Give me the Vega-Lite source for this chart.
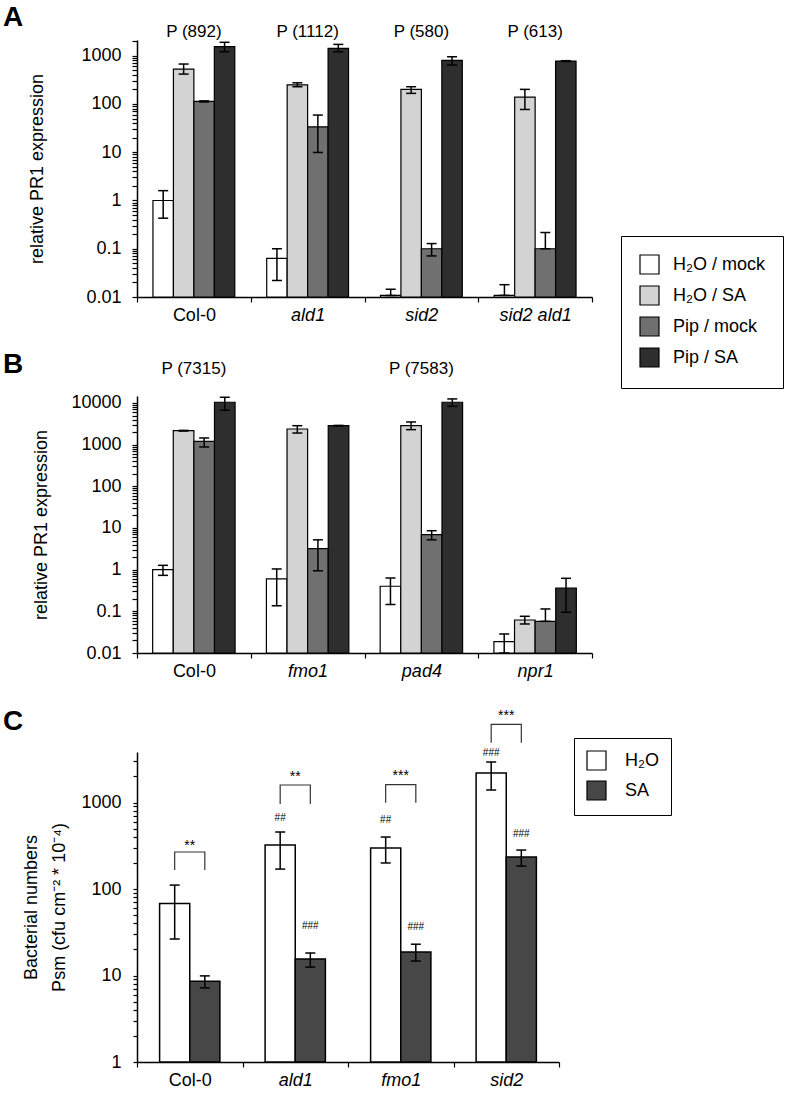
{
  "$schema": "https://vega.github.io/schema/vega-lite/v6.json",
  "padding": {"left": 3, "top": 3, "right": 0, "bottom": 0},
  "config": {
    "font": "Liberation Sans",
    "view": {"stroke": null},
    "axis": {"labelColor": "black", "titleColor": "black", "domainColor": "black", "tickColor": "black", "grid": false, "labelFontSize": 18, "titleFontSize": 18, "titleFontWeight": "normal", "domainWidth": 1.5, "tickWidth": 1.2},
    "legend": {"labelColor": "black", "labelFontSize": 18},
    "title": {"color": "black"}
  },
  "datasets": {
    "exprA": [
      {"genotype": "Col-0", "treatment": "H₂O / mock", "mean": 1.0, "lo": 0.43, "hi": 1.6},
      {"genotype": "Col-0", "treatment": "H₂O / SA", "mean": 530, "lo": 417, "hi": 673},
      {"genotype": "Col-0", "treatment": "Pip / mock", "mean": 113, "lo": 110, "hi": 116},
      {"genotype": "Col-0", "treatment": "Pip / SA", "mean": 1540, "lo": 1210, "hi": 1900},
      {"genotype": "ald1", "treatment": "H₂O / mock", "mean": 0.063, "lo": 0.022, "hi": 0.10},
      {"genotype": "ald1", "treatment": "H₂O / SA", "mean": 250, "lo": 228, "hi": 275},
      {"genotype": "ald1", "treatment": "Pip / mock", "mean": 33.6, "lo": 9.9, "hi": 59},
      {"genotype": "ald1", "treatment": "Pip / SA", "mean": 1420, "lo": 1210, "hi": 1720},
      {"genotype": "sid2", "treatment": "H₂O / mock", "mean": 0.0108, "lo": 0.0108, "hi": 0.0145},
      {"genotype": "sid2", "treatment": "H₂O / SA", "mean": 201, "lo": 166, "hi": 228},
      {"genotype": "sid2", "treatment": "Pip / mock", "mean": 0.10, "lo": 0.071, "hi": 0.128},
      {"genotype": "sid2", "treatment": "Pip / SA", "mean": 800, "lo": 641, "hi": 953},
      {"genotype": "sid2 ald1", "treatment": "H₂O / mock", "mean": 0.0108, "lo": 0.0108, "hi": 0.018},
      {"genotype": "sid2 ald1", "treatment": "H₂O / SA", "mean": 139, "lo": 77, "hi": 201},
      {"genotype": "sid2 ald1", "treatment": "Pip / mock", "mean": 0.10, "lo": 0.10, "hi": 0.217},
      {"genotype": "sid2 ald1", "treatment": "Pip / SA", "mean": 776, "lo": 760, "hi": 790}
    ],
    "pA": [
      {"genotype": "Col-0", "label": "P (892)", "y": 2490},
      {"genotype": "ald1", "label": "P (1112)", "y": 2490},
      {"genotype": "sid2", "label": "P (580)", "y": 2490},
      {"genotype": "sid2 ald1", "label": "P (613)", "y": 2490}
    ],
    "exprB": [
      {"genotype": "Col-0", "treatment": "H₂O / mock", "mean": 1.0, "lo": 0.73, "hi": 1.27},
      {"genotype": "Col-0", "treatment": "H₂O / SA", "mean": 2160, "lo": 2120, "hi": 2200},
      {"genotype": "Col-0", "treatment": "Pip / mock", "mean": 1200, "lo": 880, "hi": 1445},
      {"genotype": "Col-0", "treatment": "Pip / SA", "mean": 10400, "lo": 6680, "hi": 13700},
      {"genotype": "fmo1", "treatment": "H₂O / mock", "mean": 0.60, "lo": 0.136, "hi": 1.04},
      {"genotype": "fmo1", "treatment": "H₂O / SA", "mean": 2375, "lo": 1900, "hi": 2850},
      {"genotype": "fmo1", "treatment": "Pip / mock", "mean": 3.18, "lo": 0.94, "hi": 5.2},
      {"genotype": "fmo1", "treatment": "Pip / SA", "mean": 2850, "lo": 2800, "hi": 2900},
      {"genotype": "pad4", "treatment": "H₂O / mock", "mean": 0.40, "lo": 0.145, "hi": 0.63},
      {"genotype": "pad4", "treatment": "H₂O / SA", "mean": 2850, "lo": 2290, "hi": 3500},
      {"genotype": "pad4", "treatment": "Pip / mock", "mean": 6.9, "lo": 5.2, "hi": 8.6},
      {"genotype": "pad4", "treatment": "Pip / SA", "mean": 10400, "lo": 8300, "hi": 12500},
      {"genotype": "npr1", "treatment": "H₂O / mock", "mean": 0.0187, "lo": 0.01, "hi": 0.0286},
      {"genotype": "npr1", "treatment": "H₂O / SA", "mean": 0.062, "lo": 0.0497, "hi": 0.076},
      {"genotype": "npr1", "treatment": "Pip / mock", "mean": 0.0575, "lo": 0.0575, "hi": 0.114},
      {"genotype": "npr1", "treatment": "Pip / SA", "mean": 0.363, "lo": 0.095, "hi": 0.62}
    ],
    "pB": [
      {"genotype": "Col-0", "label": "P (7315)", "y": 49600},
      {"genotype": "pad4", "label": "P (7583)", "y": 49600}
    ],
    "bact": [
      {"genotype": "Col-0", "treatment": "H₂O", "mean": 68, "lo": 26.4, "hi": 111},
      {"genotype": "Col-0", "treatment": "SA", "mean": 8.6, "lo": 7.2, "hi": 9.9},
      {"genotype": "ald1", "treatment": "H₂O", "mean": 323, "lo": 170, "hi": 456},
      {"genotype": "ald1", "treatment": "SA", "mean": 15.5, "lo": 12.5, "hi": 18.2},
      {"genotype": "fmo1", "treatment": "H₂O", "mean": 298, "lo": 200, "hi": 399},
      {"genotype": "fmo1", "treatment": "SA", "mean": 18.7, "lo": 14.7, "hi": 23},
      {"genotype": "sid2", "treatment": "H₂O", "mean": 2190, "lo": 1395, "hi": 2940},
      {"genotype": "sid2", "treatment": "SA", "mean": 234, "lo": 184, "hi": 282}
    ],
    "starsC": [
      {"genotype": "Col-0", "label": "**", "y": 286},
      {"genotype": "ald1", "label": "**", "y": 1786},
      {"genotype": "fmo1", "label": "***", "y": 1835},
      {"genotype": "sid2", "label": "***", "y": 8990}
    ],
    "hashC": [
      {"genotype": "ald1", "treatment": "H₂O", "label": "##", "y": 619},
      {"genotype": "fmo1", "treatment": "H₂O", "label": "##", "y": 587},
      {"genotype": "sid2", "treatment": "H₂O", "label": "###", "y": 3494},
      {"genotype": "ald1", "treatment": "SA", "label": "###", "y": 34.9},
      {"genotype": "fmo1", "treatment": "SA", "label": "###", "y": 34.0},
      {"genotype": "sid2", "treatment": "SA", "label": "###", "y": 404}
    ],
    "bracketsC": [
      {"genotype": "Col-0", "treatment": "H₂O", "y": 166, "ord": 1},
      {"genotype": "Col-0", "treatment": "H₂O", "y": 268, "ord": 2},
      {"genotype": "Col-0", "treatment": "SA", "y": 268, "ord": 3},
      {"genotype": "Col-0", "treatment": "SA", "y": 166, "ord": 4},
      {"genotype": "ald1", "treatment": "H₂O", "y": 961, "ord": 1},
      {"genotype": "ald1", "treatment": "H₂O", "y": 1594, "ord": 2},
      {"genotype": "ald1", "treatment": "SA", "y": 1594, "ord": 3},
      {"genotype": "ald1", "treatment": "SA", "y": 961, "ord": 4},
      {"genotype": "fmo1", "treatment": "H₂O", "y": 995, "ord": 1},
      {"genotype": "fmo1", "treatment": "H₂O", "y": 1607, "ord": 2},
      {"genotype": "fmo1", "treatment": "SA", "y": 1607, "ord": 3},
      {"genotype": "fmo1", "treatment": "SA", "y": 995, "ord": 4},
      {"genotype": "sid2", "treatment": "H₂O", "y": 4910, "ord": 1},
      {"genotype": "sid2", "treatment": "H₂O", "y": 8015, "ord": 2},
      {"genotype": "sid2", "treatment": "SA", "y": 8015, "ord": 3},
      {"genotype": "sid2", "treatment": "SA", "y": 4910, "ord": 4}
    ]
  },
  "resolve": {"scale": {"x": "independent", "y": "independent", "xOffset": "independent", "fill": "independent"}, "legend": {"fill": "independent"}},
  "bounds": "flush",
  "spacing": 99,
  "vconcat": [
    {
      "width": 455,
      "height": 257,
      "title": {"text": "A", "anchor": "start", "frame": "group", "fontSize": 28, "fontWeight": "bold", "dx": -134, "dy": 9, "offset": 0},
      "layer": [
        {
          "data": {"name": "exprA"},
          "mark": {"type": "bar", "stroke": "black", "strokeWidth": 1.2, "opacity": 1},
          "encoding": {
            "x": {"field": "genotype", "type": "nominal", "scale": {"domain": ["Col-0", "ald1", "sid2", "sid2 ald1"], "paddingInner": 0, "paddingOuter": 0},
              "axis": {"title": null, "tickBand": "extent", "labelAngle": 0, "labelPadding": 4, "tickSize": 5,
                "labelFontStyle": {"condition": {"test": "datum.value === 'Col-0'", "value": "normal"}, "value": "italic"}}},
            "xOffset": {"field": "treatment", "type": "nominal", "scale": {"domain": ["H₂O / mock", "H₂O / SA", "Pip / mock", "Pip / SA"], "paddingInner": 0, "paddingOuter": 0.78}},
            "y": {"field": "mean", "type": "quantitative", "scale": {"type": "log", "domain": [0.01, 2120], "nice": false},
              "axis": {"title": "relative PR1 expression", "titlePadding": 34, "labelPadding": 11, "tickSize": 5, "labelOverlap": false, "labelFlush": false,
                "values": [0.01,0.02,0.03,0.04,0.05,0.06,0.07,0.08,0.09,0.1,0.2,0.3,0.4,0.5,0.6,0.7,0.8,0.9,1,2,3,4,5,6,7,8,9,10,20,30,40,50,60,70,80,90,100,200,300,400,500,600,700,800,900,1000,2000],
                "labelExpr": "abs(log(datum.value)/LN10 - round(log(datum.value)/LN10)) < 0.001 ? format(datum.value, '~g') : ''"}},
            "y2": {"datum": 0.01},
            "fill": {"field": "treatment", "type": "nominal",
              "scale": {"domain": ["H₂O / mock", "H₂O / SA", "Pip / mock", "Pip / SA"], "range": ["#ffffff", "#d3d3d3", "#707070", "#2e2e2e"]},
              "legend": {"title": null, "orient": "none", "legendX": 484, "legendY": 196, "direction": "vertical", "symbolType": "square", "symbolSize": 361,
                "symbolStrokeColor": "black", "symbolStrokeWidth": 1.2, "symbolOpacity": 1, "labelFontSize": 18, "labelOffset": 13, "rowPadding": 6,
                "padding": 18, "strokeColor": "black"}}
          }
        },
        {
          "data": {"name": "exprA"},
          "mark": {"type": "rule", "color": "black", "strokeWidth": 1.5, "opacity": 1},
          "encoding": {
            "x": {"field": "genotype", "type": "nominal"},
            "xOffset": {"field": "treatment", "type": "nominal"},
            "y": {"field": "lo", "type": "quantitative"},
            "y2": {"field": "hi"}
          }
        },
        {
          "data": {"name": "exprA"},
          "mark": {"type": "tick", "color": "black", "thickness": 1.5, "size": 10, "opacity": 1},
          "encoding": {
            "x": {"field": "genotype", "type": "nominal"},
            "xOffset": {"field": "treatment", "type": "nominal"},
            "y": {"field": "hi", "type": "quantitative"}
          }
        },
        {
          "data": {"name": "exprA"},
          "mark": {"type": "tick", "color": "black", "thickness": 1.5, "size": 10, "opacity": 1},
          "encoding": {
            "x": {"field": "genotype", "type": "nominal"},
            "xOffset": {"field": "treatment", "type": "nominal"},
            "y": {"field": "lo", "type": "quantitative"}
          }
        },
        {
          "data": {"name": "pA"},
          "mark": {"type": "text", "fontSize": 17, "color": "black", "baseline": "alphabetic", "align": "center"},
          "encoding": {
            "x": {"field": "genotype", "type": "nominal"},
            "y": {"field": "y", "type": "quantitative"},
            "text": {"field": "label"}
          }
        }
      ]
    },
    {
      "width": 455,
      "height": 257,
      "title": {"text": "B", "anchor": "start", "frame": "group", "fontSize": 28, "fontWeight": "bold", "dx": -134, "dy": 19, "offset": 0},
      "layer": [
        {
          "data": {"name": "exprB"},
          "mark": {"type": "bar", "stroke": "black", "strokeWidth": 1.2, "opacity": 1},
          "encoding": {
            "x": {"field": "genotype", "type": "nominal", "scale": {"domain": ["Col-0", "fmo1", "pad4", "npr1"], "paddingInner": 0, "paddingOuter": 0},
              "axis": {"title": null, "tickBand": "extent", "labelAngle": 0, "labelPadding": 4, "tickSize": 5,
                "labelFontStyle": {"condition": {"test": "datum.value === 'Col-0'", "value": "normal"}, "value": "italic"}}},
            "xOffset": {"field": "treatment", "type": "nominal", "scale": {"domain": ["H₂O / mock", "H₂O / SA", "Pip / mock", "Pip / SA"], "paddingInner": 0, "paddingOuter": 0.76}},
            "y": {"field": "mean", "type": "quantitative", "scale": {"type": "log", "domain": [0.01, 14700], "nice": false},
              "axis": {"title": "relative PR1 expression", "titlePadding": 20, "labelPadding": 11, "tickSize": 5, "labelOverlap": false, "labelFlush": false,
                "values": [0.01,0.02,0.03,0.04,0.05,0.06,0.07,0.08,0.09,0.1,0.2,0.3,0.4,0.5,0.6,0.7,0.8,0.9,1,2,3,4,5,6,7,8,9,10,20,30,40,50,60,70,80,90,100,200,300,400,500,600,700,800,900,1000,2000,3000,4000,5000,6000,7000,8000,9000,10000],
                "labelExpr": "abs(log(datum.value)/LN10 - round(log(datum.value)/LN10)) < 0.001 ? format(datum.value, '~g') : ''"}},
            "y2": {"datum": 0.01},
            "fill": {"field": "treatment", "type": "nominal",
              "scale": {"domain": ["H₂O / mock", "H₂O / SA", "Pip / mock", "Pip / SA"], "range": ["#ffffff", "#d3d3d3", "#707070", "#2e2e2e"]},
              "legend": null}
          }
        },
        {
          "data": {"name": "exprB"},
          "mark": {"type": "rule", "color": "black", "strokeWidth": 1.5, "opacity": 1},
          "encoding": {
            "x": {"field": "genotype", "type": "nominal"},
            "xOffset": {"field": "treatment", "type": "nominal"},
            "y": {"field": "lo", "type": "quantitative"},
            "y2": {"field": "hi"}
          }
        },
        {
          "data": {"name": "exprB"},
          "mark": {"type": "tick", "color": "black", "thickness": 1.5, "size": 10, "opacity": 1},
          "encoding": {
            "x": {"field": "genotype", "type": "nominal"},
            "xOffset": {"field": "treatment", "type": "nominal"},
            "y": {"field": "hi", "type": "quantitative"}
          }
        },
        {
          "data": {"name": "exprB"},
          "mark": {"type": "tick", "color": "black", "thickness": 1.5, "size": 10, "opacity": 1},
          "encoding": {
            "x": {"field": "genotype", "type": "nominal"},
            "xOffset": {"field": "treatment", "type": "nominal"},
            "y": {"field": "lo", "type": "quantitative"}
          }
        },
        {
          "data": {"name": "pB"},
          "mark": {"type": "text", "fontSize": 17, "color": "black", "baseline": "alphabetic", "align": "center"},
          "encoding": {
            "x": {"field": "genotype", "type": "nominal"},
            "y": {"field": "y", "type": "quantitative"},
            "text": {"field": "label"}
          }
        }
      ]
    },
    {
      "width": 422,
      "height": 310,
      "title": {"text": "C", "anchor": "start", "frame": "group", "fontSize": 28, "fontWeight": "bold", "dx": -134, "dy": 27, "offset": 0},
      "layer": [
        {
          "data": {"name": "bact"},
          "mark": {"type": "bar", "stroke": "black", "strokeWidth": 1.5, "opacity": 1},
          "encoding": {
            "x": {"field": "genotype", "type": "nominal", "scale": {"domain": ["Col-0", "ald1", "fmo1", "sid2"], "paddingInner": 0, "paddingOuter": 0},
              "axis": {"title": null, "tickBand": "extent", "labelAngle": 0, "labelPadding": 4, "tickSize": 5,
                "labelFontStyle": {"condition": {"test": "datum.value === 'Col-0'", "value": "normal"}, "value": "italic"}}},
            "xOffset": {"field": "treatment", "type": "nominal", "scale": {"domain": ["H₂O", "SA"], "paddingInner": 0, "paddingOuter": 0.75}},
            "y": {"field": "mean", "type": "quantitative", "scale": {"type": "log", "domain": [1, 3837], "nice": false},
              "axis": {"title": ["Bacterial numbers", "Psm (cfu cm⁻² * 10⁻⁴)"], "titleLineHeight": 28, "titlePadding": 12, "labelPadding": 12, "tickSize": 4, "labelOverlap": false, "labelFlush": false,
                "values": [1,2,3,4,5,6,7,8,9,10,20,30,40,50,60,70,80,90,100,200,300,400,500,600,700,800,900,1000,2000,3000],
                "labelExpr": "abs(log(datum.value)/LN10 - round(log(datum.value)/LN10)) < 0.001 ? format(datum.value, '~g') : ''"}},
            "y2": {"datum": 1},
            "fill": {"field": "treatment", "type": "nominal",
              "scale": {"domain": ["H₂O", "SA"], "range": ["#ffffff", "#474747"]},
              "legend": {"title": null, "orient": "none", "legendX": 437, "legendY": -14, "direction": "vertical", "symbolType": "square", "symbolSize": 361,
                "symbolStrokeColor": "black", "symbolStrokeWidth": 1.2, "symbolOpacity": 1, "labelFontSize": 18, "labelOffset": 18, "rowPadding": 5,
                "padding": 12, "strokeColor": "black"}}
          }
        },
        {
          "data": {"name": "bact"},
          "mark": {"type": "rule", "color": "black", "strokeWidth": 1.5, "opacity": 1},
          "encoding": {
            "x": {"field": "genotype", "type": "nominal"},
            "xOffset": {"field": "treatment", "type": "nominal"},
            "y": {"field": "lo", "type": "quantitative"},
            "y2": {"field": "hi"}
          }
        },
        {
          "data": {"name": "bact"},
          "mark": {"type": "tick", "color": "black", "thickness": 1.5, "size": 10, "opacity": 1},
          "encoding": {
            "x": {"field": "genotype", "type": "nominal"},
            "xOffset": {"field": "treatment", "type": "nominal"},
            "y": {"field": "hi", "type": "quantitative"}
          }
        },
        {
          "data": {"name": "bact"},
          "mark": {"type": "tick", "color": "black", "thickness": 1.5, "size": 10, "opacity": 1},
          "encoding": {
            "x": {"field": "genotype", "type": "nominal"},
            "xOffset": {"field": "treatment", "type": "nominal"},
            "y": {"field": "lo", "type": "quantitative"}
          }
        },
        {
          "data": {"name": "bracketsC"},
          "mark": {"type": "line", "color": "#333333", "strokeWidth": 1.2, "opacity": 1},
          "encoding": {
            "x": {"field": "genotype", "type": "nominal"},
            "xOffset": {"field": "treatment", "type": "nominal"},
            "y": {"field": "y", "type": "quantitative"},
            "detail": {"field": "genotype"},
            "order": {"field": "ord"}
          }
        },
        {
          "data": {"name": "starsC"},
          "mark": {"type": "text", "fontSize": 14, "color": "black", "baseline": "alphabetic", "align": "center"},
          "encoding": {
            "x": {"field": "genotype", "type": "nominal"},
            "y": {"field": "y", "type": "quantitative"},
            "text": {"field": "label"}
          }
        },
        {
          "data": {"name": "hashC"},
          "mark": {"type": "text", "fontSize": 10, "color": "black", "baseline": "alphabetic", "align": "center"},
          "encoding": {
            "x": {"field": "genotype", "type": "nominal"},
            "xOffset": {"field": "treatment", "type": "nominal"},
            "y": {"field": "y", "type": "quantitative"},
            "text": {"field": "label"}
          }
        }
      ]
    }
  ]
}
